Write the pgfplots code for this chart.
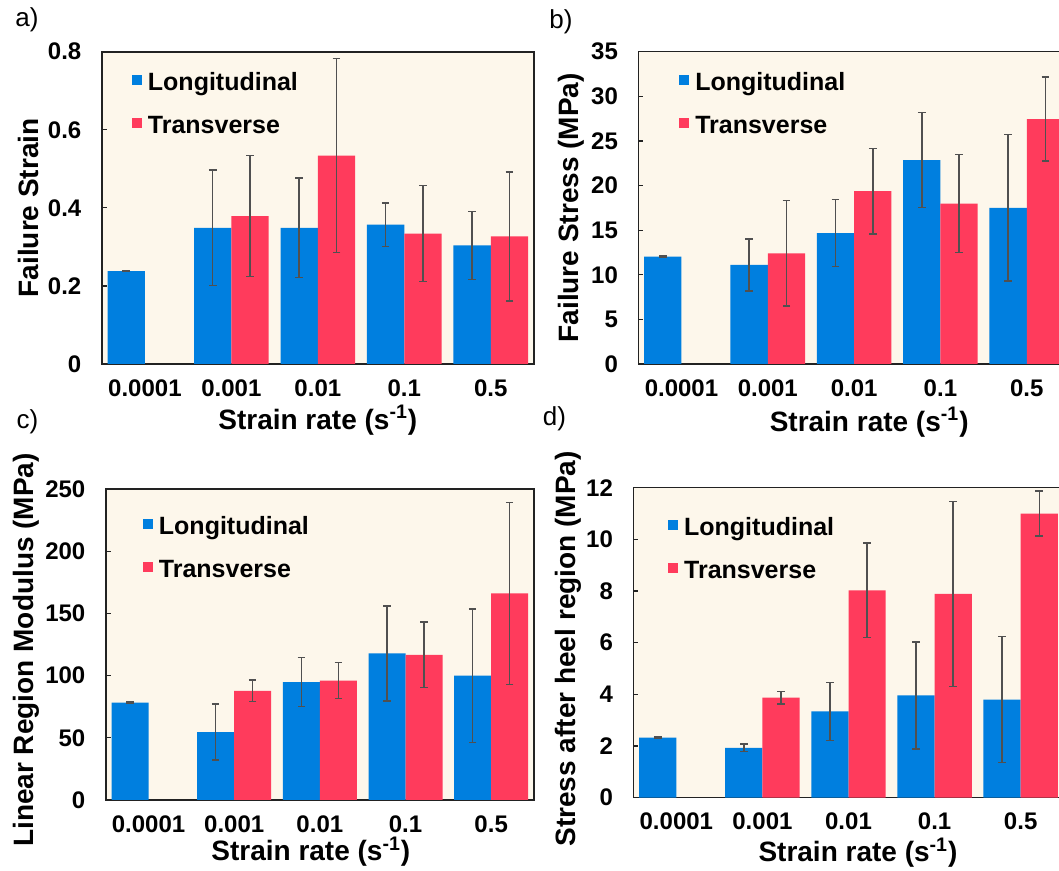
\documentclass[border=0pt]{standalone}
\usepackage{pgfplots}
\usepackage{pgfplotstable}
\pgfplotsset{compat=1.18}
\usepackage{fontspec}
\setmainfont{Liberation Sans}
\definecolor{bgc}{RGB}{253,247,235}
\definecolor{blu}{RGB}{0,127,223}
\definecolor{rd}{RGB}{255,59,92}
\definecolor{errc}{RGB}{80,80,80}
\definecolor{axc}{RGB}{34,34,34}

\pgfplotsset{
  panel/.style={
    scale only axis,
    xmin=-0.5, xmax=4.5, ymin=0,
    axis background/.style={fill=bgc},
    axis line style={axc, line width=0.8pt},
    xtick={0,1,2,3,4},
    xticklabels={0.0001,0.001,0.01,0.1,0.5},
    xtick style={draw=none},
    ytick pos=left,
    tick align=inside,
    major tick length=2.5pt,
    ytick style={axc, line width=0.6pt},
    tick label style={font=\fontsize{12}{13}\selectfont\bfseries, inner sep=0pt},
    /pgf/number format/assume math mode=true,
    xticklabel style={anchor=center, yshift=-12pt},
    yticklabel style={anchor=east, xshift=-10pt},
    label style={font=\fontsize{14}{16}\selectfont\bfseries},
    xlabel={Strain rate (s\textsuperscript{-1})},
    legend style={draw=none, fill=none, anchor=north west, inner sep=0pt,
      font=\fontsize{12.5}{13}\selectfont\bfseries, row sep=11pt, column sep=3pt,
      nodes={inner sep=0pt, text height=8pt, text depth=2.5pt}},
    legend cell align=left,
    legend image code/.code={\fill[#1,draw=none] (0pt,0pt) rectangle (5pt,5pt);},
  },
  lbar/.style={ybar, bar width=0.432, bar shift=0, fill=blu, draw=none,
    error bars/.cd, y dir=both, y explicit,
    error bar style={errc, line width=0.75pt},
    error mark options={errc, line width=0.75pt, mark size=1.9pt, rotate=90}},
  tbar/.style={ybar, bar width=0.432, bar shift=0, fill=rd, draw=none,
    error bars/.cd, y dir=both, y explicit,
    error bar style={errc, line width=0.75pt},
    error mark options={errc, line width=0.75pt, mark size=1.9pt, rotate=90}},
}

\pgfplotstableread{
x y e
0 0.238 0.001
1 0.349 0.148
2 0.349 0.127
3 0.357 0.056
4 0.304 0.087
}\aL
\pgfplotstableread{
x y e
1 0.379 0.155
2 0.534 0.248
3 0.334 0.123
4 0.327 0.165
}\aT
\pgfplotstableread{
x y e
0 12.03 0.05
1 11.1 2.9
2 14.67 3.75
3 22.86 5.3
4 17.5 8.2
}\bL
\pgfplotstableread{
x y e
1 12.4 5.9
2 19.36 4.8
3 17.98 5.5
4 27.44 4.7
}\bT
\pgfplotstableread{
x y e
0 78.3 0.5
1 54.5 22.5
2 94.7 19.7
3 117.8 38.1
4 100.0 53.6
}\cL
\pgfplotstableread{
x y e
1 87.7 8.6
2 96.0 14.4
3 116.7 26.2
4 166.0 73.0
}\cT
\pgfplotstableread{
x y e
0 2.33 0.02
1 1.93 0.15
2 3.34 1.12
3 3.96 2.07
4 3.80 2.44
}\dL
\pgfplotstableread{
x y e
1 3.87 0.24
2 8.03 1.83
3 7.89 3.58
4 11.0 0.87
}\dT

\begin{document}
\begin{tikzpicture}
\useasboundingbox (0,0) rectangle (529.5pt,435.5pt);
\clip (0,0) rectangle (529.5pt,435.5pt);

% a)
\begin{axis}[panel, at={(50.85pt,253.5pt)}, anchor=south west,
  width=216.15pt, height=156.15pt,
  ymax=0.8, ytick={0,0.2,0.4,0.6,0.8},
  ylabel={Failure Strain},
  ylabel style={at={(axis description cs:-0.1705,0.5)}, anchor=center},
  xlabel style={at={(axis description cs:0.5,-0.18)}, anchor=center},
  legend style={at={(0.069,0.929)}}]
\addplot[lbar] table[x expr=\thisrow{x}-0.216, y=y, y error=e] {\aL};
\addlegendentry{Longitudinal}
\addplot[tbar] table[x expr=\thisrow{x}+0.216, y=y, y error=e] {\aT};
\addlegendentry{Transverse}
\end{axis}

% b)
\begin{axis}[panel, at={(319.15pt,253.5pt)}, anchor=south west,
  width=215.8pt, height=156.15pt,
  ymax=35, ytick={0,5,10,15,20,25,30,35},
  ylabel={Failure Stress (MPa)},
  ylabel style={at={(axis description cs:-0.156,0.5)}, anchor=center},
  xlabel style={at={(axis description cs:0.535,-0.186)}, anchor=center},
  legend style={at={(0.094,0.929)}}]
\addplot[lbar] table[x expr=\thisrow{x}-0.216, y=y, y error=e] {\bL};
\addlegendentry{Longitudinal}
\addplot[tbar] table[x expr=\thisrow{x}+0.216, y=y, y error=e] {\bT};
\addlegendentry{Transverse}
\end{axis}

% c)
\begin{axis}[panel, at={(52.85pt,35.5pt)}, anchor=south west,
  width=214.15pt, height=155.5pt,
  ymax=250, ytick={0,50,100,150,200,250},
  ylabel={Linear Region Modulus (MPa)},
  ylabel style={at={(axis description cs:-0.186,0.482)}, anchor=center},
  xlabel style={at={(axis description cs:0.479,-0.167)}, anchor=center},
  legend style={at={(0.086,0.905)}}]
\addplot[lbar] table[x expr=\thisrow{x}-0.216, y=y, y error=e] {\cL};
\addlegendentry{Longitudinal}
\addplot[tbar] table[x expr=\thisrow{x}+0.216, y=y, y error=e] {\cT};
\addlegendentry{Transverse}
\end{axis}

% d)
\begin{axis}[panel, at={(316.65pt,36.65pt)}, anchor=south west,
  width=215.2pt, height=155pt,
  ymax=12, ytick={0,2,4,6,8,10,12},
  ylabel={Stress after heel region (MPa)},
  ylabel style={at={(axis description cs:-0.152,0.48)}, anchor=center},
  xlabel style={at={(axis description cs:0.522,-0.178)}, anchor=center},
  legend style={at={(0.08,0.9)}}]
\addplot[lbar] table[x expr=\thisrow{x}-0.216, y=y, y error=e] {\dL};
\addlegendentry{Longitudinal}
\addplot[tbar] table[x expr=\thisrow{x}+0.216, y=y, y error=e] {\dT};
\addlegendentry{Transverse}
\end{axis}

\node[font=\fontsize{13}{15}\selectfont] at (13.5pt,425.5pt) {a)};
\node[font=\fontsize{13}{15}\selectfont] at (280.5pt,424.75pt) {b)};
\node[font=\fontsize{13}{15}\selectfont] at (13.75pt,224.75pt) {c)};
\node[font=\fontsize{13}{15}\selectfont] at (277.25pt,226pt) {d)};
\end{tikzpicture}
\end{document}
